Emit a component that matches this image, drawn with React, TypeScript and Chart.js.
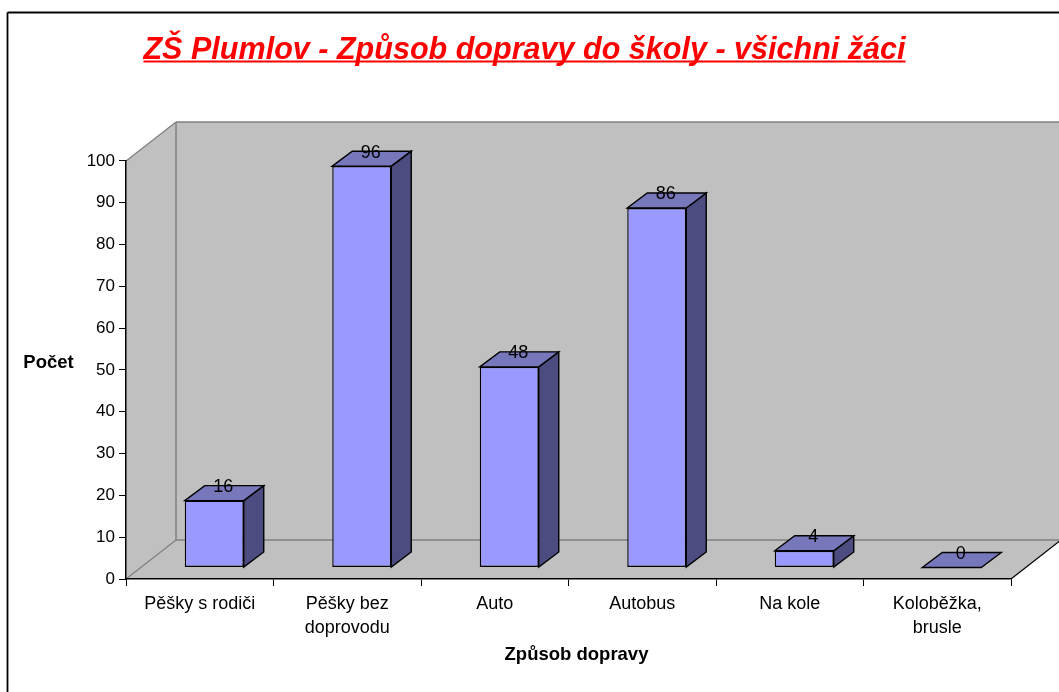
import React, { useEffect, useRef } from "react";
import { Chart, registerables } from "chart.js";

Chart.register(...registerables);

const categories = [
  ["Pěšky s rodiči"],
  ["Pěšky bez", "doprovodu"],
  ["Auto"],
  ["Autobus"],
  ["Na kole"],
  ["Koloběžka,", "brusle"],
];
const counts = [16, 96, 48, 86, 4, 0];
const chartTitle = "ZŠ Plumlov - Způsob dopravy do školy - všichni žáci";
const yAxisTitle = "Počet";
const xAxisTitle = "Způsob dopravy";

const FONT = '"Liberation Sans", Arial, sans-serif';
const Y_TICK_SIZE = 17;
const X_TICK_SIZE = 18;
const LABEL_SIZE = 18;
const AXIS_TITLE_SIZE = 18.5;
const WALL = "#C0C0C0";
const WALL_EDGE = "#808080";
const FRONT = "#9999FF";
const TOP = "#7777BB";
const SIDE = "#4C4C80";

const WALL_DX = 50;
const WALL_DY = 39;
const BAR_OFF_X = 14.5;
const BAR_OFF_Y = 11.5;
const BAR_DX = 20;
const BAR_DY = 15;

function poly(ctx: CanvasRenderingContext2D, pts: number[][], fill: string, stroke: string, lw = 1) {
  ctx.beginPath();
  pts.forEach((p, i) => (i ? ctx.lineTo(p[0], p[1]) : ctx.moveTo(p[0], p[1])));
  ctx.closePath();
  if (fill) {
    ctx.fillStyle = fill;
    ctx.fill();
  }
  if (stroke) {
    ctx.strokeStyle = stroke;
    ctx.lineWidth = lw;
    ctx.stroke();
  }
}

function line(ctx: CanvasRenderingContext2D, x1: number, y1: number, x2: number, y2: number, color: string, lw: number) {
  ctx.beginPath();
  ctx.moveTo(x1, y1);
  ctx.lineTo(x2, y2);
  ctx.strokeStyle = color;
  ctx.lineWidth = lw;
  ctx.stroke();
}

const scene3d = {
  id: "scene3d",
  beforeDraw(chart: any) {
    const { ctx, width, height, chartArea: a } = chart;
    ctx.save();
    ctx.fillStyle = "#FFFFFF";
    ctx.fillRect(0, 0, width, height);
    // outer frame
    line(ctx, 7.5, 12.5, width + 2, 12.5, "#000000", 1.8);
    line(ctx, 7.5, 12.5, 7.5, height + 2, "#000000", 1.8);
    // walls and floor
    const bx = a.left + WALL_DX;
    const rx = a.right + WALL_DX;
    const ty = a.top - WALL_DY;
    const by = a.bottom - WALL_DY;
    poly(ctx, [[bx, ty], [rx, ty], [rx, by], [bx, by]], WALL, "");
    poly(ctx, [[a.left, a.top], [bx, ty], [bx, by], [a.left, a.bottom]], WALL, "");
    poly(ctx, [[a.left, a.bottom], [bx, by], [rx, by], [a.right, a.bottom]], WALL, "");
    line(ctx, a.left, a.top, bx, ty, WALL_EDGE, 1.2);
    line(ctx, bx, ty, rx, ty, WALL_EDGE, 1.5);
    line(ctx, bx, ty, bx, by, WALL_EDGE, 1.5);
    line(ctx, bx, by, rx, by, WALL_EDGE, 1.5);
    line(ctx, a.left, a.bottom, bx, by, WALL_EDGE, 1.2);
    line(ctx, a.right, a.bottom, rx, by, "#000000", 1.2);
    ctx.restore();
  },
  beforeDatasetDraw(chart: any, args: any) {
    const { ctx } = chart;
    ctx.save();
    ctx.translate(BAR_OFF_X, -BAR_OFF_Y);
    args.meta.data.forEach((el: any) => {
      const half = el.width / 2;
      const l = el.x - half;
      const r = el.x + half;
      const t = el.y;
      const b = el.base;
      if (b - t > 0.5) {
        poly(ctx, [[r, t], [r + BAR_DX, t - BAR_DY], [r + BAR_DX, b - BAR_DY], [r, b]], SIDE, "#000000", 1.4);
      }
      poly(ctx, [[l, t], [l + BAR_DX, t - BAR_DY], [r + BAR_DX, t - BAR_DY], [r, t]], TOP, "#000000", 1.4);
    });
  },
  afterDatasetDraw(chart: any) {
    chart.ctx.restore();
  },
  afterDraw(chart: any) {
    const { ctx } = chart;
    ctx.save();
    // data labels
    ctx.font = `${LABEL_SIZE}px ${FONT}`;
    ctx.fillStyle = "#000000";
    ctx.textAlign = "center";
    ctx.textBaseline = "middle";
    chart.getDatasetMeta(0).data.forEach((el: any, i: number) => {
      ctx.fillText(String(counts[i]), el.x + BAR_OFF_X + 9, el.y - BAR_OFF_Y - 13.5);
    });
    // axis titles
    ctx.font = `bold ${AXIS_TITLE_SIZE}px ${FONT}`;
    ctx.fillText(yAxisTitle, 48.5, 362.5);
    ctx.fillText(xAxisTitle, 576.5, 654.5);
    // title underline
    const tb = chart.titleBlock;
    ctx.font = `italic bold 30.55px ${FONT}`;
    const w = ctx.measureText(chartTitle).width;
    const cx = (tb.left + tb.right) / 2;
    line(ctx, cx - w / 2, 61.5, cx + w / 2, 61.5, "#FF0000", 2);
    ctx.restore();
  },
};

export default function App() {
  const ref = useRef<HTMLCanvasElement>(null);
  useEffect(() => {
    const chart = new Chart(ref.current as HTMLCanvasElement, {
      type: "bar",
      data: {
        labels: categories,
        datasets: [
          {
            data: counts,
            backgroundColor: FRONT,
            borderColor: "#000000",
            borderWidth: 1.4,
            borderSkipped: false,
            barPercentage: 0.4,
            categoryPercentage: 1,
            clip: false,
          },
        ],
      },
      options: {
        responsive: false,
        animation: false,
        devicePixelRatio: 1,
        layout: { padding: { left: 38, right: 48, top: 0, bottom: 0 } },
        plugins: {
          legend: { display: false },
          tooltip: { enabled: false },
          title: {
            display: true,
            text: chartTitle,
            color: "#FF0000",
            font: { family: FONT, size: 30.55, style: "italic", weight: "bold", lineHeight: 1.2 },
            padding: { top: 32, bottom: 92.3 },
          },
        },
        scales: {
          x: {
            afterFit: (s: any) => {
              s.height = 113;
            },
            grid: { offset: true, drawOnChartArea: false, drawTicks: true, tickLength: 7, color: "#000000" },
            border: { color: "#000000", width: 1.5 },
            ticks: {
              color: "#000000",
              autoSkip: false,
              maxRotation: 0,
              padding: 6,
              font: { family: FONT, size: X_TICK_SIZE, lineHeight: 1.32 },
            },
          },
          y: {
            min: 0,
            max: 100,
            afterFit: (s: any) => {
              s.width = 88;
            },
            grid: { drawOnChartArea: false, drawTicks: true, tickLength: 7, color: "#000000" },
            border: { color: "#000000", width: 1.5 },
            ticks: {
              color: "#000000",
              stepSize: 10,
              padding: 4,
              font: { family: FONT, size: Y_TICK_SIZE },
            },
          },
        },
      },
      plugins: [scene3d],
    } as any);
    return () => chart.destroy();
  }, []);
  return (
    <div style={{ position: "absolute", left: 0, top: 0, width: 1059, height: 692, overflow: "hidden" }}>
      <canvas ref={ref} width={1059} height={692} style={{ display: "block" }} />
    </div>
  );
}
